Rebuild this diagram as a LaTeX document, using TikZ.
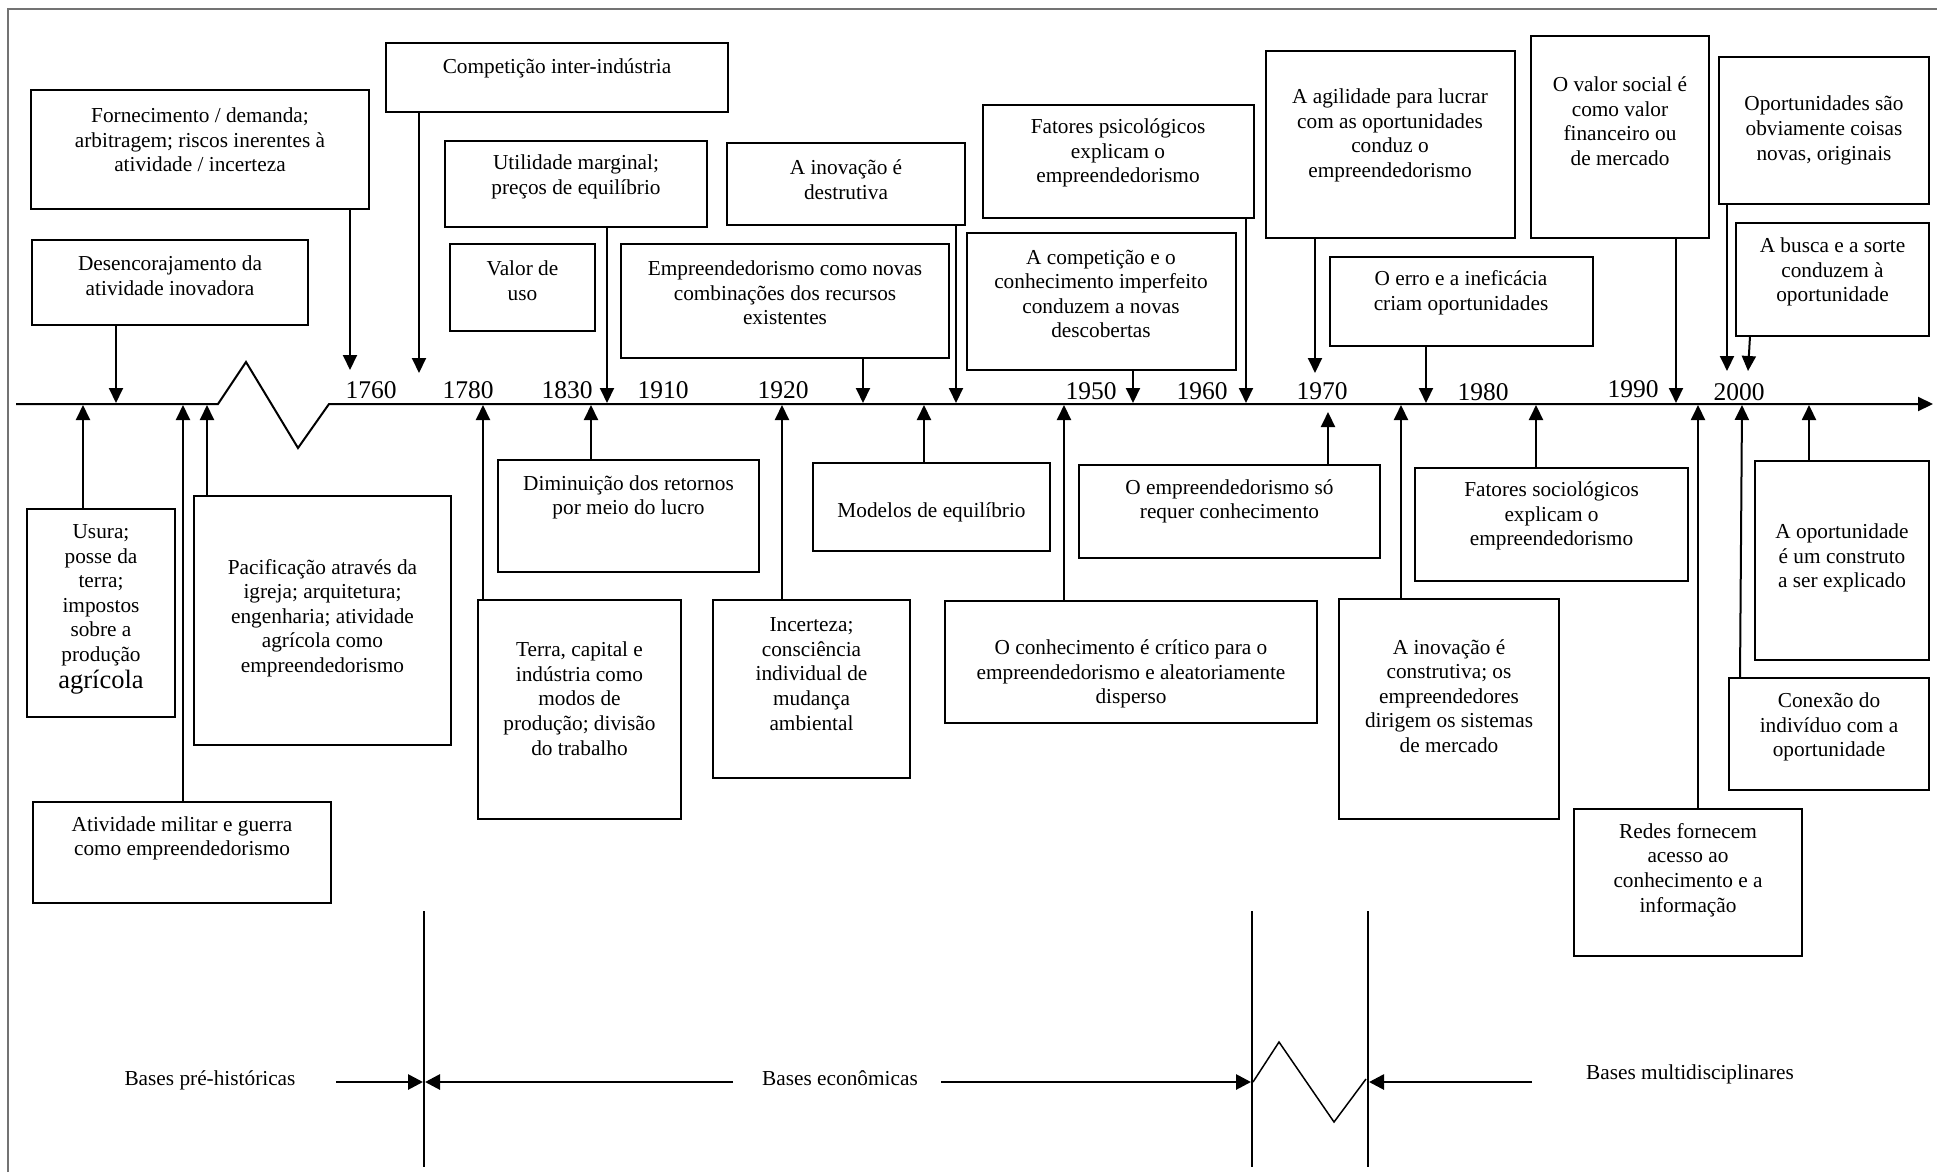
\documentclass[tikz,border=0pt]{standalone}
\usepackage{fontspec}
\setmainfont{Liberation Serif}
\usetikzlibrary{arrows.meta}
\tikzset{
  bx/.style={draw, line width=2.2pt, inner sep=0pt, outer sep=0pt},
  tx/.style={align=center, inner sep=0pt, font=\fontsize{21.3}{24.6}\selectfont},
  yr/.style={inner sep=0pt, anchor=base, font=\fontsize{25.5}{28}\selectfont},
  arr/.style={line width=2pt, -{Triangle[length=15pt,width=14pt]}},
  axisline/.style={line width=2pt, -{Triangle[length=15pt,width=14pt]}},
  barr/.style={line width=2.8pt, -{Triangle[length=15pt,width=15pt]}},
  sepline/.style={line width=1.3pt},
  frameline/.style={black!55, line width=1.5pt}
}
\newcommand\tbox[5]{\node[bx, minimum width={(#4)-(#2)}, minimum height={(#5)-(#3)}] (#1) at ({((#2)+(#4))/2},{((#3)+(#5))/2}) {};}
\begin{document}
\begin{tikzpicture}[x=1pt, y=-1pt]
\useasboundingbox (0,0) rectangle (1937,1172);
\draw[frameline] (8,1172) -- (8,9) -- (1937,9);

% ---------- timeline axis ----------
\coordinate (ax0) at (16,404);
\coordinate (ax1) at (218,404);
\coordinate (axp) at (246,362);
\coordinate (axv) at (298,448);
\coordinate (ax2) at (329,404);
\coordinate (axend) at (1933,404);
\draw[axisline] (ax0) -- (ax1) -- (axp) -- (axv) -- (ax2) -- (axend);

% ---------- years ----------
\node[yr] (y1760) at (371,398) {1760};
\node[yr] (y1780) at (468,398) {1780};
\node[yr] (y1830) at (567,398) {1830};
\node[yr] (y1910) at (663,398) {1910};
\node[yr] (y1920) at (783,398) {1920};
\node[yr] (y1950) at (1091,399) {1950};
\node[yr] (y1960) at (1202,399) {1960};
\node[yr] (y1970) at (1322,399) {1970};
\node[yr] (y1980) at (1483,400) {1980};
\node[yr] (y1990) at (1633,397) {1990};
\node[yr] (y2000) at (1739,400) {2000};

% ---------- boxes above the axis ----------
\tbox{fornec}{31}{90}{369}{209}
\node[tx] (fornec-t) at (200,140) {Fornecimento / demanda;\\arbitragem; riscos inerentes à\\atividade / incerteza};
\coordinate (fornec-e) at (350,370);
\draw[arr] (fornec.south -| fornec-e) -- (fornec-e);

\tbox{desenc}{32}{240}{308}{325}
\node[tx] (desenc-t) at (170,275.5) {Desencorajamento da\\atividade inovadora};
\coordinate (desenc-e) at (116,403);
\draw[arr] (desenc.south -| desenc-e) -- (desenc-e);

\tbox{compet}{386}{43}{728}{112}
\node[tx] (compet-t) at (557,68) {Competição inter-indústria};
\coordinate (compet-e) at (419,373);
\draw[arr] (compet.south -| compet-e) -- (compet-e);

\tbox{utilid}{445}{141}{707}{227}
\node[tx] (utilid-t) at (576,177) {Utilidade marginal;\\preços de equilíbrio};
\coordinate (utilid-e) at (607,403);
\draw[arr] (utilid.south -| utilid-e) -- (utilid-e);

\tbox{valor}{450}{244}{595}{331}
\node[tx] (valor-t) at (522.5,281) {Valor de\\uso};

\tbox{inovdes}{727}{143}{965}{225}
\node[tx] (inovdes-t) at (846,179.5) {A inovação é\\destrutiva};
\coordinate (inovdes-e) at (956,403);
\draw[arr] (inovdes.south -| inovdes-e) -- (inovdes-e);

\tbox{empcomb}{621}{244}{949}{358}
\node[tx] (empcomb-t) at (785,293) {Empreendedorismo como novas\\combinações dos recursos\\existentes};
\coordinate (empcomb-e) at (863,403);
\draw[arr] (empcomb.south -| empcomb-e) -- (empcomb-e);

\tbox{fatpsi}{983}{105}{1254}{218}
\node[tx] (fatpsi-t) at (1118,153) {Fatores psicológicos\\explicam o\\empreendedorismo};
\coordinate (fatpsi-e) at (1246,403);
\draw[arr] (fatpsi.south -| fatpsi-e) -- (fatpsi-e);

\tbox{compconh}{967}{233}{1236}{370}
\node[tx] (compconh-t) at (1101,294) {A competição e o\\conhecimento imperfeito\\conduzem a novas\\descobertas};
\coordinate (compconh-e) at (1133,403);
\draw[arr] (compconh.south -| compconh-e) -- (compconh-e);

\tbox{agil}{1266}{51}{1515}{238}
\node[tx] (agil-t) at (1390,135.5) {A agilidade para lucrar\\com as oportunidades\\conduz o\\empreendedorismo};
\coordinate (agil-e) at (1315,373);
\draw[arr] (agil.south -| agil-e) -- (agil-e);

\tbox{erro}{1330}{257}{1593}{346}
\node[tx] (erro-t) at (1461,293) {O erro e a ineficácia\\criam oportunidades};
\coordinate (erro-e) at (1426,403);
\draw[arr] (erro.south -| erro-e) -- (erro-e);

\tbox{valsoc}{1531}{36}{1709}{238}
\node[tx] (valsoc-t) at (1620,121) {O valor social é\\como valor\\financeiro ou\\de mercado};
\coordinate (valsoc-e) at (1676,403);
\draw[arr] (valsoc.south -| valsoc-e) -- (valsoc-e);

\tbox{oport}{1719}{57}{1929}{204}
\node[tx] (oport-t) at (1824,130.5) {Oportunidades são\\obviamente coisas\\novas, originais};
\coordinate (oport-e) at (1727,371);
\draw[arr] (oport.south -| oport-e) -- (oport-e);

\tbox{busca}{1736}{223}{1929}{336}
\node[tx] (busca-t) at (1832.5,272) {A busca e a sorte\\conduzem à\\oportunidade};
\coordinate (busca-e) at (1748,371);
\draw[arr] ([xshift=14pt]busca.south west) -- (busca-e);

% ---------- boxes below the axis ----------
\tbox{usura}{27}{509}{175}{717}
\node[tx] (usura-t) at (101,609.5) {Usura;\\posse da\\terra;\\impostos\\sobre a\\produção\\[2.6pt]{\fontsize{26.5}{28}\selectfont agrícola}};
\coordinate (usura-e) at (83,405);
\draw[arr] (usura.north -| usura-e) -- (usura-e);

\tbox{pacif}{194}{496}{451}{745}
\node[tx] (pacif-t) at (322.5,618) {Pacificação através da\\igreja; arquitetura;\\engenharia; atividade\\agrícola como\\empreendedorismo};
\coordinate (pacif-e) at (207,405);
\draw[arr] (pacif.north -| pacif-e) -- (pacif-e);

\tbox{milit}{33}{802}{331}{903}
\node[tx] (milit-t) at (182,838.5) {Atividade militar e guerra\\como empreendedorismo};
\coordinate (milit-e) at (183,405);
\draw[arr] (milit.north -| milit-e) -- (milit-e);

\tbox{dimin}{498}{460}{759}{572}
\node[tx] (dimin-t) at (628.5,497.5) {Diminuição dos retornos\\por meio do lucro};
\coordinate (dimin-e) at (591,405);
\draw[arr] (dimin.north -| dimin-e) -- (dimin-e);

\tbox{terra}{478}{600}{681}{819}
\node[tx] (terra-t) at (579.5,698.6) {Terra, capital e\\indústria como\\modos de\\produção; divisão\\do trabalho};
\coordinate (terra-e) at (483,405);
\draw[arr] (terra.north -| terra-e) -- (terra-e);

\tbox{incert}{713}{600}{910}{778}
\node[tx] (incert-t) at (811.5,674) {Incerteza;\\consciência\\individual de\\mudança\\ambiental};
\coordinate (incert-e) at (782,405);
\draw[arr] (incert.north -| incert-e) -- (incert-e);

\tbox{modelos}{813}{463}{1050}{551}
\node[tx] (modelos-t) at (931.5,512) {Modelos de equilíbrio};
\coordinate (modelos-e) at (924,405);
\draw[arr] (modelos.north -| modelos-e) -- (modelos-e);

\tbox{empso}{1079}{465}{1380}{558}
\node[tx] (empso-t) at (1229.5,501.5) {O empreendedorismo só\\requer conhecimento};
\coordinate (empso-e) at (1328,412);
\draw[arr] (empso.north -| empso-e) -- (empso-e);

\tbox{conhcrit}{945}{601}{1317}{723}
\node[tx] (conhcrit-t) at (1131,674) {O conhecimento é crítico para o\\empreendedorismo e aleatoriamente\\disperso};
\coordinate (conhcrit-e) at (1064,405);
\draw[arr] (conhcrit.north -| conhcrit-e) -- (conhcrit-e);

\tbox{inovcons}{1339}{599}{1559}{819}
\node[tx] (inovcons-t) at (1449,696) {A inovação é\\construtiva; os\\empreendedores\\dirigem os sistemas\\de mercado};
\coordinate (inovcons-e) at (1401,405);
\draw[arr] (inovcons.north -| inovcons-e) -- (inovcons-e);

\tbox{fatsoc}{1415}{468}{1688}{581}
\node[tx] (fatsoc-t) at (1551.5,516) {Fatores sociológicos\\explicam o\\empreendedorismo};
\coordinate (fatsoc-e) at (1536,405);
\draw[arr] (fatsoc.north -| fatsoc-e) -- (fatsoc-e);

\tbox{redes}{1574}{809}{1802}{956}
\node[tx] (redes-t) at (1688,870) {Redes fornecem\\acesso ao\\conhecimento e a\\informação};
\coordinate (redes-e) at (1698,405);
\draw[arr] (redes.north -| redes-e) -- (redes-e);

\tbox{constr}{1755}{461}{1929}{660}
\node[tx] (constr-t) at (1842,558) {A oportunidade\\é um construto\\a ser explicado};
\coordinate (constr-e) at (1809,405);
\draw[arr] (constr.north -| constr-e) -- (constr-e);

\tbox{conex}{1729}{678}{1929}{790}
\node[tx] (conex-t) at (1829,727) {Conexão do\\indivíduo com a\\oportunidade};
\coordinate (conex-e) at (1742,405);
\draw[arr] ([xshift=11pt]conex.north west) -- (conex-e);

% ---------- bottom: periods ----------
\coordinate (v1t) at (424,911); \coordinate (v1b) at (424,1167);
\coordinate (v2t) at (1252,911); \coordinate (v2b) at (1252,1167);
\coordinate (v3t) at (1368,911); \coordinate (v3b) at (1368,1167);
\draw[sepline] (v1t) -- (v1b);
\draw[sepline] (v2t) -- (v2b);
\draw[sepline] (v3t) -- (v3b);
\draw[line width=1.5pt] (1253,1082) -- (1279,1042) -- (1334,1122) -- (1366,1079);

\node[tx] (bpre) at (210,1080) {Bases pré-históricas};
\node[tx] (beco) at (840,1078) {Bases econômicas};
\node[tx] (bmul) at (1690,1074) {Bases multidisciplinares};

\coordinate (bpre-a) at (336,1082); \coordinate (bpre-b) at (423,1082);
\coordinate (beco-a) at (733,1082); \coordinate (beco-b) at (425,1082);
\coordinate (beco-c) at (941,1082); \coordinate (beco-d) at (1251,1082);
\coordinate (bmul-a) at (1532,1082); \coordinate (bmul-b) at (1369,1082);
\draw[barr] (bpre-a) -- (bpre-b);
\draw[barr] (beco-a) -- (beco-b);
\draw[barr] (beco-c) -- (beco-d);
\draw[barr] (bmul-a) -- (bmul-b);
\end{tikzpicture}
\end{document}
